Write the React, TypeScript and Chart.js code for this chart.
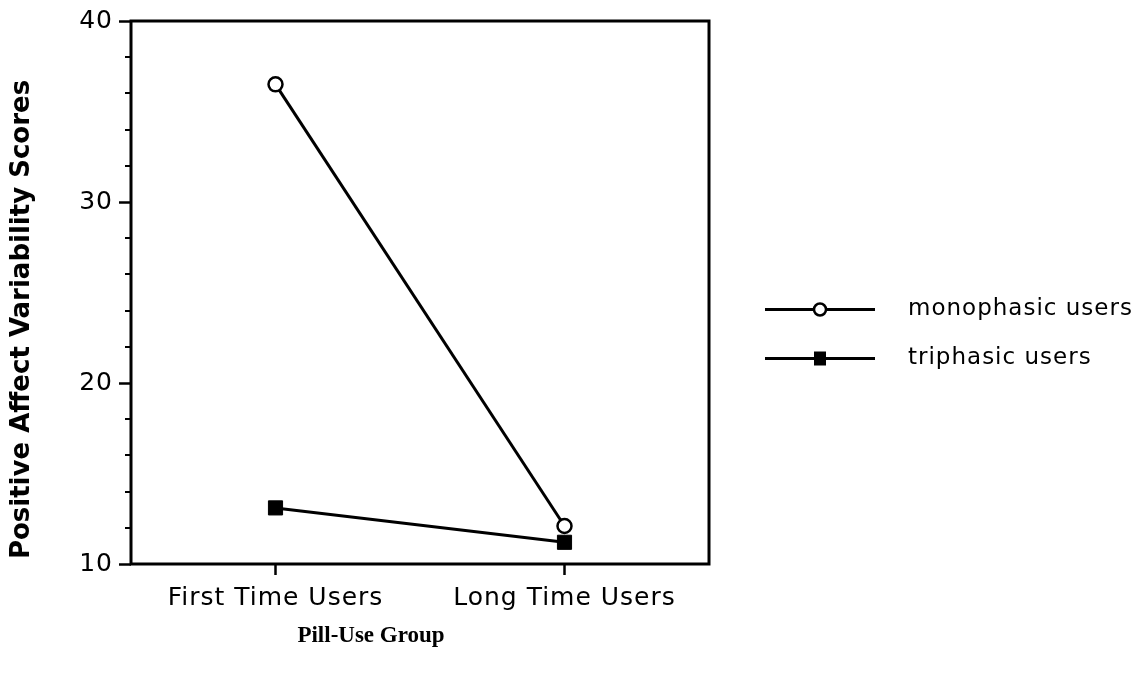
import React, { useEffect, useRef } from "react";
import { Chart, registerables } from "chart.js";

Chart.register(...registerables);

// ---- data ----
const categories = ["First Time Users", "Long Time Users"];
const monophasicValues = [36.5, 12.1];
const triphasicValues = [13.1, 11.2];
const seriesNames = ["monophasic users", "triphasic users"];
const yMin = 10;
const yMax = 40;
const yMajorStep = 10;
const yMinorStep = 2;
const yTitle = "Positive Affect Variability Scores";
const xTitle = "Pill-Use Group";

const FONT = "'DejaVu Sans', sans-serif";
const SPACING = "1px";

const spacingPlugin = {
  id: "spacing",
  beforeUpdate(chart: any) {
    chart.ctx.letterSpacing = SPACING;
  },
  beforeDraw(chart: any) {
    chart.ctx.letterSpacing = SPACING;
  },
};

const decorations = {
  id: "decorations",
  afterDraw(chart: any) {
    const { ctx, chartArea: a, scales } = chart;
    const y = scales.y;
    ctx.save();
    ctx.strokeStyle = "#000";
    ctx.fillStyle = "#000";
    // minor ticks on y axis
    ctx.lineWidth = 2;
    for (let v = yMin; v <= yMax; v += yMinorStep) {
      if (v % yMajorStep === 0) continue;
      const py = Math.round(y.getPixelForValue(v));
      ctx.beginPath();
      ctx.moveTo(a.left - 6, py);
      ctx.lineTo(a.left, py);
      ctx.stroke();
    }
    // plot box
    ctx.lineWidth = 3;
    ctx.strokeRect(a.left, a.top, a.right - a.left, a.bottom - a.top);

    // y axis title (rotated)
    ctx.save();
    ctx.letterSpacing = "0px";
    ctx.font = `bold 26px ${FONT}`;
    ctx.textAlign = "center";
    ctx.textBaseline = "middle";
    ctx.translate(22, (a.top + a.bottom) / 2 + 27);
    ctx.rotate(-Math.PI / 2);
    ctx.fillText(yTitle, 0, 0);
    ctx.restore();

    // x axis title
    ctx.letterSpacing = "0px";
    ctx.font = "bold 23px 'Liberation Serif', serif";
    ctx.textAlign = "center";
    ctx.textBaseline = "middle";
    ctx.fillText(xTitle, a.left + 240, a.bottom + 72);

    // legend
    const midY = (a.top + a.bottom) / 2;
    const rows = [midY + 17, midY + 66];
    const lx0 = a.right + 56;
    const lx1 = a.right + 166;
    const mx = (lx0 + lx1) / 2;
    rows.forEach((ry, i) => {
      ctx.lineWidth = 3;
      ctx.strokeStyle = "#000";
      ctx.beginPath();
      ctx.moveTo(lx0, ry);
      ctx.lineTo(lx1, ry);
      ctx.stroke();
      if (i === 0) {
        ctx.beginPath();
        ctx.arc(mx, ry, 6, 0, Math.PI * 2);
        ctx.fillStyle = "#fff";
        ctx.fill();
        ctx.lineWidth = 2.5;
        ctx.stroke();
      } else {
        ctx.fillStyle = "#000";
        ctx.fillRect(mx - 6, ry - 7, 12, 14);
      }
      ctx.fillStyle = "#000";
      ctx.letterSpacing = SPACING;
      ctx.font = `23px ${FONT}`;
      ctx.textAlign = "left";
      ctx.textBaseline = "middle";
      ctx.fillText(seriesNames[i], a.right + 199, ry);
    });
    ctx.restore();
  },
};

export default function App() {
  const ref = useRef<HTMLCanvasElement | null>(null);

  useEffect(() => {
    if (!ref.current) return;
    const chart = new Chart(ref.current, {
      type: "line",
      data: {
        labels: categories,
        datasets: [
          {
            label: seriesNames[0],
            data: monophasicValues,
            borderColor: "#000",
            borderWidth: 3,
            pointStyle: "circle",
            pointRadius: 7,
            pointBackgroundColor: "#fff",
            pointBorderColor: "#000",
            pointBorderWidth: 2.5,
          },
          {
            label: seriesNames[1],
            data: triphasicValues,
            borderColor: "#000",
            borderWidth: 3,
            pointStyle: "rect",
            pointRadius: 10,
            pointBackgroundColor: "#000",
            pointBorderColor: "#000",
            pointBorderWidth: 1,
          },
        ],
      },
      options: {
        animation: false,
        responsive: true,
        maintainAspectRatio: false,
        layout: { padding: { left: 0, top: 19, right: 437, bottom: 0 } },
        plugins: {
          legend: { display: false },
          tooltip: { enabled: false },
        },
        scales: {
          x: {
            type: "category",
            offset: true,
            border: { display: false },
            grid: {
              drawOnChartArea: false,
              tickLength: 11,
              tickColor: "#000",
              tickWidth: 2.5,
            },
            ticks: {
              color: "#000",
              font: { family: FONT, size: 25 },
              padding: 8,
              maxRotation: 0,
            },
            afterFit: (s: any) => {
              s.height = 109;
            },
          },
          y: {
            type: "linear",
            min: yMin,
            max: yMax,
            border: { display: false },
            grid: {
              drawOnChartArea: false,
              tickLength: 12,
              tickWidth: 2.5,
              tickColor: (c: any) =>
                c.tick && c.tick.value % yMajorStep === 0 ? "#000" : "rgba(0,0,0,0)",
            },
            ticks: {
              stepSize: yMinorStep,
              autoSkip: false,
              color: "#000",
              font: { family: FONT, size: 25 },
              padding: 6,
              callback: (v: any) => (Number(v) % yMajorStep === 0 ? String(v) : ""),
            },
            afterFit: (s: any) => {
              s.width = 131;
            },
          },
        },
      },
      plugins: [spacingPlugin, decorations],
    });
    return () => chart.destroy();
  }, []);

  return (
    <div style={{ position: "fixed", left: 0, top: 0, width: 1146, height: 673, background: "#fff" }}>
      <canvas ref={ref} />
    </div>
  );
}
